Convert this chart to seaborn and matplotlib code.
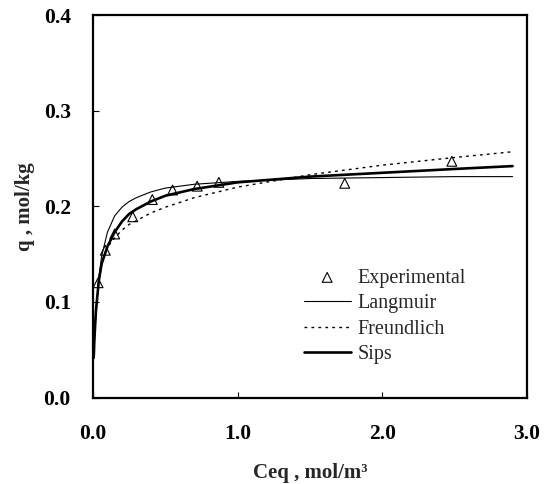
import pandas as pd
import numpy as np
import seaborn as sns
import matplotlib.pyplot as plt

sns.set_style('ticks')
plt.rcParams['font.family'] = ['Liberation Serif', 'DejaVu Serif']

# experimental points
exp_c = [0.035, 0.085, 0.15, 0.275, 0.41, 0.55, 0.72, 0.87, 1.74, 2.48]
exp_q = [0.120, 0.154, 0.171, 0.189, 0.207, 0.217, 0.221, 0.225, 0.224, 0.247]

# model curves, read at these concentrations
curve_c = [0.005, 0.01, 0.02, 0.04, 0.06, 0.1, 0.15, 0.2, 0.25, 0.3, 0.4, 0.5,
           0.7, 1.0, 1.5, 2.0, 2.5, 2.9]
langmuir_q = [0.040, 0.060, 0.088, 0.125, 0.148, 0.173, 0.190, 0.199, 0.205, 0.209,
              0.215, 0.219, 0.223, 0.226, 0.229, 0.230, 0.231, 0.231]
freundlich_q = [0.045, 0.065, 0.090, 0.122, 0.140, 0.157, 0.167, 0.175, 0.181, 0.185,
                0.193, 0.199, 0.209, 0.220, 0.233, 0.243, 0.251, 0.257]
sips_q = [0.042, 0.062, 0.090, 0.122, 0.140, 0.158, 0.173, 0.184, 0.192, 0.197,
          0.205, 0.211, 0.218, 0.225, 0.231, 0.235, 0.239, 0.242]

x_ticks = [0.0, 1.0, 2.0, 3.0]
y_ticks = [0.0, 0.1, 0.2, 0.3, 0.4]

df_exp = pd.DataFrame({'c': exp_c, 'q': exp_q})
df_fit = pd.DataFrame({'c': curve_c, 'Langmuir': langmuir_q,
                       'Freundlich': freundlich_q, 'Sips': sips_q})

fig = plt.figure(figsize=(5.49, 4.84), dpi=100)
ax = fig.add_axes([0.1694, 0.1787, 0.7906, 0.7903])

sns.scatterplot(data=df_exp, x='c', y='q', ax=ax, marker='^', s=50,
                facecolor='none', edgecolor='black', linewidth=0.8, label='Experimental')
sns.lineplot(data=df_fit, x='c', y='Langmuir', ax=ax, color='black', lw=0.8, label='Langmuir')
sns.lineplot(data=df_fit, x='c', y='Freundlich', ax=ax, color='black', lw=1.0,
             linestyle=(0, (2, 3)), label='Freundlich')
sns.lineplot(data=df_fit, x='c', y='Sips', ax=ax, color='black', lw=1.9, label='Sips')

ax.set_xlim(0, 3.0)
ax.set_ylim(0, 0.4)
ax.set_xticks(x_ticks)
ax.set_yticks(y_ticks)
ax.set_xticklabels([f'{t:.1f}' for t in x_ticks], fontsize=15.5, fontweight='bold')
ax.set_yticklabels([f'{t:.1f}' for t in y_ticks], fontsize=15.5, fontweight='bold')
ax.tick_params(axis='both', direction='in', length=4, width=0.8, colors='black')
ax.tick_params(axis='x', pad=19)
ax.tick_params(axis='y', pad=16)
for sp in ax.spines.values():
    sp.set_visible(True)
    sp.set_linewidth(1.6)
    sp.set_color('black')

ax.set_xlabel('Ceq , mol/m³', fontsize=15, fontweight='bold', labelpad=14)
ax.set_ylabel('q , mol/kg', fontsize=15, fontweight='bold', labelpad=6)

ax.legend(loc='center left', bbox_to_anchor=(0.485, 0.212), frameon=False,
          fontsize=14.5, handlelength=2.35, handletextpad=0.35, labelspacing=0.32,
          borderpad=0, borderaxespad=0)

fig.savefig('out.png', dpi=100)
